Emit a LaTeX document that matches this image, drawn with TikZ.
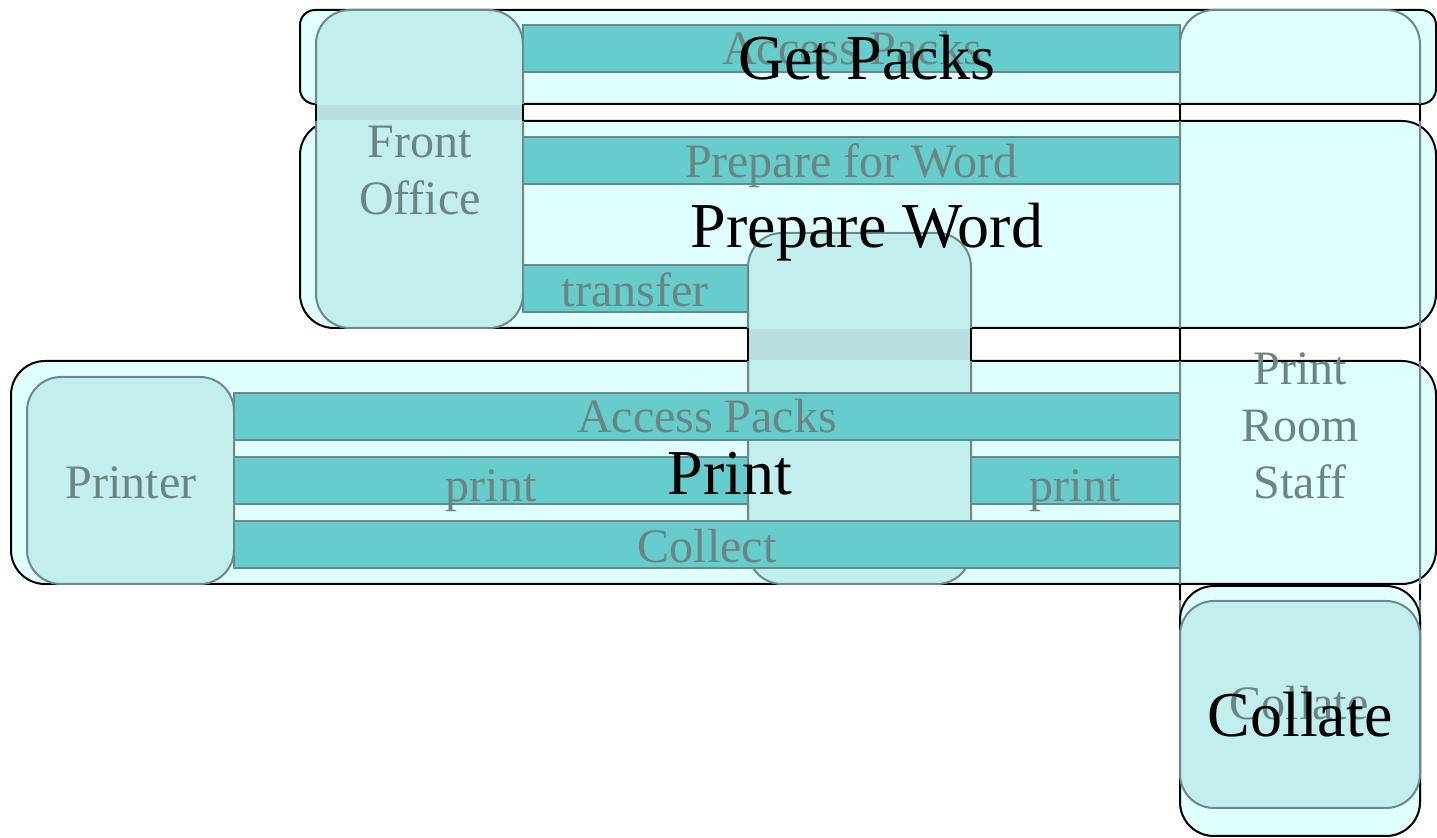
\documentclass[tikz,border=0pt]{standalone}
\usepackage{fontspec}
\setmainfont{Liberation Serif}
\definecolor{clfill}{HTML}{E0FFFF}
\definecolor{lanefill}{HTML}{C2EEEE}
\definecolor{gapfill}{HTML}{B8DFE0}
\definecolor{barfill}{HTML}{66CCCC}
\definecolor{lanegray}{HTML}{6B8989}
\definecolor{txtgray}{HTML}{6B8585}
\begin{document}
\begin{tikzpicture}[x=0.5pt,y=-0.5pt,
  cluster/.style={draw=black,line width=1pt,fill=clfill,rounded corners=17pt},
  lane/.style={draw=lanegray,line width=1pt,fill=lanefill,rounded corners=17pt},
  bar/.style={draw=lanegray,line width=1pt,fill=barfill},
  gapline/.style={draw=black,line width=1pt},
  glabel/.style={text=txtgray,font=\fontsize{24}{28.5}\selectfont,anchor=base,inner sep=0pt,align=center},
  clabel/.style={text=black,font=\fontsize{32}{38}\selectfont,anchor=base,inner sep=0pt}]
\useasboundingbox (0,0) rectangle (1437,838);
% process clusters
\path[cluster,rounded corners=7.5pt] (300,10) rectangle (1436,104);
\path[cluster] (300,121) rectangle (1436,328);
\path[cluster] (11,361) rectangle (1436,584);
% print room staff lane outline
\draw[lanegray,line width=1pt,rounded corners=17pt] (1180,10) rectangle (1420,836);
% collate cluster
\path[cluster] (1180,586) rectangle (1420,836);
% lane nodes
\path[lane] (316,10) rectangle (523,328);
\path[lane] (748,233) rectangle (971,584);
\path[lane] (27,377) rectangle (234,584);
\path[lane] (1180,601) rectangle (1420,808);
% gaps between clusters
\fill[gapfill] (316,105) rectangle (523,120);
\fill[gapfill] (748,329) rectangle (971,360);
\path[gapline] (316,104) -- (316,121) (523,104) -- (523,121);
\path[gapline] (748,328) -- (748,361) (971,328) -- (971,361);
\path[gapline] (1180,104) -- (1180,121) (1420,104) -- (1420,121);
\path[gapline] (1180,328) -- (1180,361) (1420,328) -- (1420,361);
\path[gapline] (1180,584) -- (1180,600) (1420,584) -- (1420,600);
% task bars
\path[bar] (523,25) rectangle (1180,72);
\path[bar] (523,137) rectangle (1180,184);
\path[bar] (523,265) rectangle (748,312);
\path[bar] (234,393) rectangle (1180,440);
\path[bar] (234,457) rectangle (748,504);
\path[bar] (971,457) rectangle (1180,504);
\path[bar] (234,521) rectangle (1180,568);
% gray labels
\node[glabel] (t1) at (852,65) {Access Packs};
\node[glabel] (t2) at (851,178) {Prepare for Word};
\node[glabel] (t3) at (635,307) {transfer};
\node[glabel] (t4) at (707,433) {Access Packs};
\node[glabel] (t5) at (491,502) {print};
\node[glabel] (t6) at (1075,502) {print};
\node[glabel] (t7) at (707,563) {Collect};
\node[glabel] (fo) at (420,215) {Front\\Office};
\node[glabel] (pr) at (131,499) {Printer};
\node[glabel] (st) at (1300,499) {Print\\Room\\Staff};
\node[glabel] (co) at (1299,720) {Collate};
% cluster labels
\node[clabel] (c1) at (867,80) {Get Packs};
\node[clabel] (c2) at (867,248) {Prepare Word};
\node[clabel] (c3) at (730,495) {Print};
\node[clabel] (c4) at (1300,737) {Collate};
\end{tikzpicture}
\end{document}
